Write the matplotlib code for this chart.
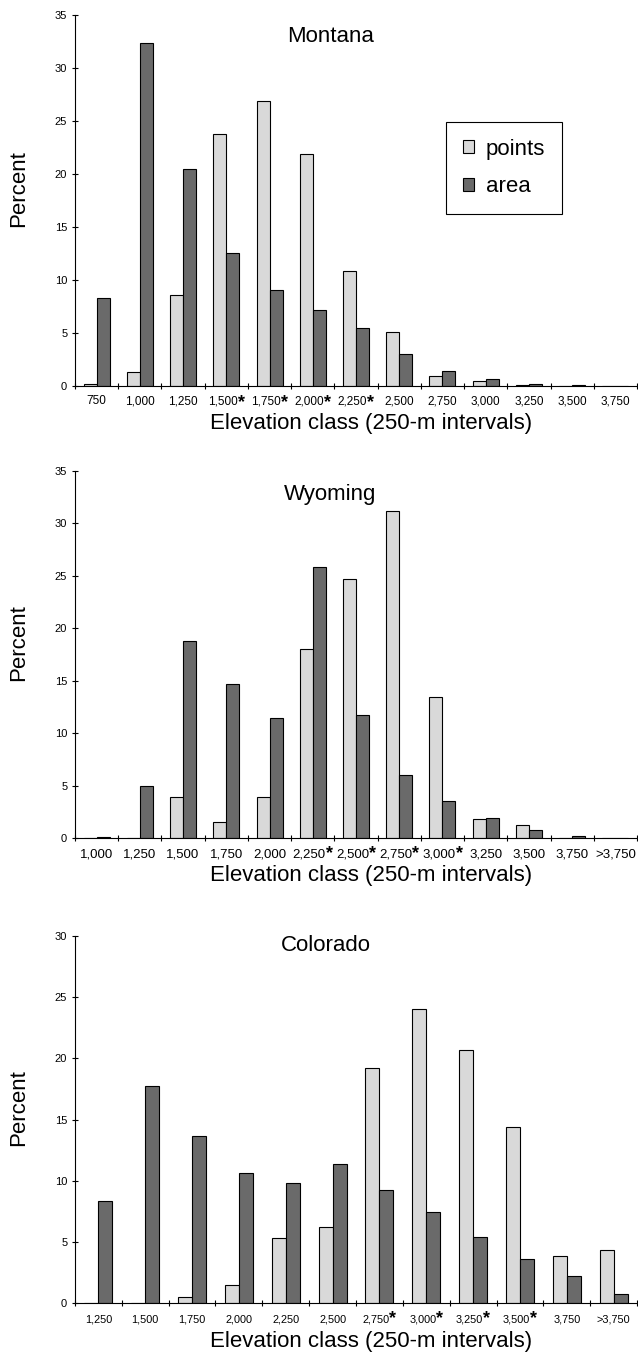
import numpy as np
import matplotlib
matplotlib.use("Agg")
import matplotlib.pyplot as plt
from matplotlib.transforms import blended_transform_factory, offset_copy

plt.rcParams['font.family'] = ['Liberation Sans', 'DejaVu Sans']

# ---------------- data ----------------
mt_classes = ['750', '1,000', '1,250', '1,500', '1,750', '2,000', '2,250',
              '2,500', '2,750', '3,000', '3,250', '3,500', '3,750']
mt_starred = ['1,500', '1,750', '2,000', '2,250']
mt_points = [0.15, 1.3, 8.6, 23.7, 26.9, 21.9, 10.8, 5.1, 0.9, 0.4, 0.1, 0.0, 0.0]
mt_area = [8.3, 32.3, 20.4, 12.5, 9.0, 7.1, 5.4, 2.95, 1.35, 0.65, 0.15, 0.08, 0.0]

wy_classes = ['1,000', '1,250', '1,500', '1,750', '2,000', '2,250', '2,500',
              '2,750', '3,000', '3,250', '3,500', '3,750', '>3,750']
wy_starred = ['2,250', '2,500', '2,750', '3,000']
wy_points = [0.0, 0.0, 3.95, 1.5, 3.95, 18.0, 24.7, 31.15, 13.4, 1.8, 1.2, 0.0, 0.0]
wy_area = [0.13, 5.0, 18.75, 14.65, 11.4, 25.8, 11.7, 6.0, 3.5, 1.9, 0.8, 0.16, 0.0]

co_classes = ['1,250', '1,500', '1,750', '2,000', '2,250', '2,500', '2,750',
              '3,000', '3,250', '3,500', '3,750', '>3,750']
co_starred = ['2,750', '3,000', '3,250', '3,500']
co_points = [0.0, 0.0, 0.5, 1.45, 5.35, 6.2, 19.2, 24.05, 20.65, 14.4, 3.85, 4.35]
co_area = [8.3, 17.7, 13.65, 10.6, 9.8, 11.35, 9.25, 7.45, 5.4, 3.6, 2.2, 0.75]

series_names = ['points', 'area']
x_title = 'Elevation class (250-m intervals)'
y_title = 'Percent'

# ---------------- style ----------------
W, H = 638, 1355
AX_L, AX_R = 75, 637
LIGHT = '#d9d9d9'
DARK = '#6a6a6a'
EDGE = '#000000'
BAR_W = 0.3

fig = plt.figure(figsize=(W / 100, H / 100), dpi=100)
fig.patch.set_facecolor('white')

panels = [
    dict(name='Montana', classes=mt_classes, starred=mt_starred,
         points=mt_points, area=mt_area, ymax=35, top=14.7, bottom=385.7,
         title_xy=(0.454, 0.940), xfs=8.5, yfs=8, lab_pad=9.8, ast_dy=1.5,
         xlab_y=423, legend=True),
    dict(name='Wyoming', classes=wy_classes, starred=wy_starred,
         points=wy_points, area=wy_area, ymax=35, top=471, bottom=838,
         title_xy=(0.454, 0.935), xfs=9.5, yfs=8, lab_pad=10.3, ast_dy=3.0,
         xlab_y=876, legend=False),
    dict(name='Colorado', classes=co_classes, starred=co_starred,
         points=co_points, area=co_area, ymax=30, top=936, bottom=1303,
         title_xy=(0.447, 0.975), xfs=7.8, yfs=8, lab_pad=11.5, ast_dy=4.0,
         xlab_y=1342, legend=False),
]

axes = []
for p in panels:
    n = len(p['classes'])
    ax = fig.add_axes([AX_L / W, 1 - p['bottom'] / H,
                       (AX_R - AX_L) / W, (p['bottom'] - p['top']) / H])
    x = np.arange(n)
    ax.bar(x - BAR_W / 2, p['points'], BAR_W, color=LIGHT, edgecolor=EDGE,
           linewidth=0.8, label=series_names[0], zorder=2)
    ax.bar(x + BAR_W / 2, p['area'], BAR_W, color=DARK, edgecolor=EDGE,
           linewidth=0.8, label=series_names[1], zorder=2)
    ax.set_xlim(-0.5, n - 0.5)
    ax.set_ylim(0, p['ymax'])
    ax.set_yticks(np.arange(0, p['ymax'] + 1, 5))
    ax.set_xticks(np.arange(-0.5, n, 1.0))
    ax.set_xticklabels([])
    for s in ['top', 'right']:
        ax.spines[s].set_visible(False)
    for s in ['left', 'bottom']:
        ax.spines[s].set_linewidth(0.8)
        ax.spines[s].set_zorder(3)
    ax.tick_params(axis='y', direction='inout', length=4.8, width=0.8,
                   pad=3.2, labelsize=p['yfs'])
    ax.tick_params(axis='x', direction='inout', length=4.8, width=0.8)

    ax.set_title(p['name'], fontsize=16, x=p['title_xy'][0], y=p['title_xy'][1],
                 va='center', pad=0)

    h_ax = p['bottom'] - p['top']
    ax.set_ylabel(y_title, fontsize=16)
    ax.yaxis.set_label_coords((19 - AX_L) / (AX_R - AX_L), 0.532)
    ax.yaxis.label.set_va('center')
    ax.set_xlabel(x_title, fontsize=16)
    ax.xaxis.set_label_coords(0.527, -(p['xlab_y'] - p['bottom']) / h_ax)
    ax.xaxis.label.set_va('center')

    if p['legend']:
        leg = ax.legend(loc='upper left', bbox_to_anchor=(0.66, 0.711),
                        fontsize=16, frameon=True, fancybox=False,
                        edgecolor='black', framealpha=1, borderaxespad=0,
                        handlelength=0.5, handleheight=0.5, handletextpad=0.55,
                        labelspacing=0.75, borderpad=0.75)
        leg.get_frame().set_linewidth(0.8)
    axes.append(ax)

# category labels (with asterisks for flagged classes)
fig.canvas.draw()
r = fig.canvas.get_renderer()
for ax, p in zip(axes, panels):
    trans = blended_transform_factory(ax.transData, ax.transAxes)
    pad = p['lab_pad']
    for i, lab in enumerate(p['classes']):
        t = ax.text(i, 0, lab, ha='center', va='top', fontsize=p['xfs'],
                    transform=offset_copy(trans, fig=fig, x=0, y=-pad, units='dots'),
                    clip_on=False)
        if lab in p['starred']:
            a = ax.text(i, 0, '*', ha='left', va='top', fontsize=13,
                        fontweight='bold', clip_on=False,
                        transform=offset_copy(trans, fig=fig, x=0, y=0, units='dots'))
            wn = t.get_window_extent(renderer=r).width
            wa = a.get_window_extent(renderer=r).width
            t.set_transform(offset_copy(trans, fig=fig, x=-wa / 2, y=-pad, units='dots'))
            a.set_transform(offset_copy(trans, fig=fig, x=wn / 2 - wa / 2,
                                        y=-pad + p['ast_dy'], units='dots'))

fig.savefig('out.png', dpi=100, facecolor='white')
